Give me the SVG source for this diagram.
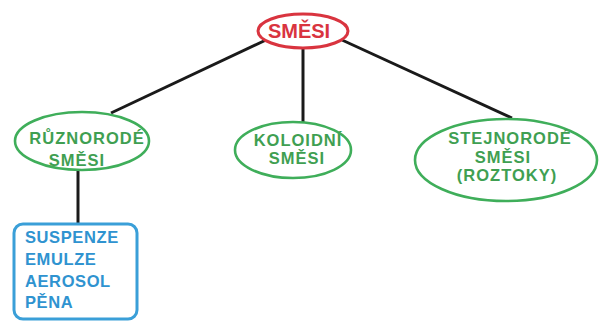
<svg xmlns="http://www.w3.org/2000/svg" width="606" height="322" viewBox="0 0 606 322">
<style>
text{font-family:"Liberation Sans",Arial,sans-serif;font-weight:bold;text-anchor:middle}
.g{fill:none;stroke:#3fae5a;stroke-width:2.6}
.gt{fill:#3f9f52;font-size:16.5px;letter-spacing:1px}
.bt{fill:#2f93d0;font-size:16.5px;letter-spacing:0.6px;text-anchor:start}
.ln{stroke:#1a1a1a;stroke-width:3;fill:none}
</style>
<rect width="606" height="322" fill="#ffffff"/>
<g id="connectors">
<line class="ln" x1="266" y1="40" x2="111" y2="113"/>
<line class="ln" x1="303" y1="48" x2="303" y2="122"/>
<line class="ln" x1="342" y1="40" x2="512" y2="118"/>
<line class="ln" x1="78" y1="170" x2="78" y2="224"/>
</g>
<g id="smesi">
<ellipse cx="303" cy="31" rx="45" ry="17" fill="#ffffff" stroke="#d9343f" stroke-width="3"/>
<text x="299" y="38" fill="#d9343f" font-size="20">SMĚSI</text>
</g>
<g id="ruznorode">
<ellipse class="g" cx="82" cy="141" rx="67" ry="29" fill="#ffffff"/>
<text class="gt" x="87" y="144">RŮZNORODÉ</text>
<text class="gt" x="77" y="166">SMĚSI</text>
</g>
<g id="koloidni">
<ellipse class="g" cx="293" cy="150" rx="58" ry="28" fill="#ffffff"/>
<text class="gt" x="298" y="146">KOLOIDNÍ</text>
<text class="gt" x="297" y="164">SMĚSI</text>
</g>
<g id="stejnorode">
<ellipse class="g" cx="506" cy="160" rx="91" ry="41" fill="#ffffff"/>
<text class="gt" x="510" y="144">STEJNORODÉ</text>
<text class="gt" x="503" y="163">SMĚSI</text>
<text class="gt" x="507" y="181">(ROZTOKY)</text>
</g>
<g id="druhy">
<rect x="14" y="224" width="123" height="95" rx="9" fill="#ffffff" stroke="#3a9fd8" stroke-width="3"/>
<text class="bt" x="25" y="243">SUSPENZE</text>
<text class="bt" x="25" y="265">EMULZE</text>
<text class="bt" x="25" y="287">AEROSOL</text>
<text class="bt" x="25" y="308">PĚNA</text>
</g>
</svg>
